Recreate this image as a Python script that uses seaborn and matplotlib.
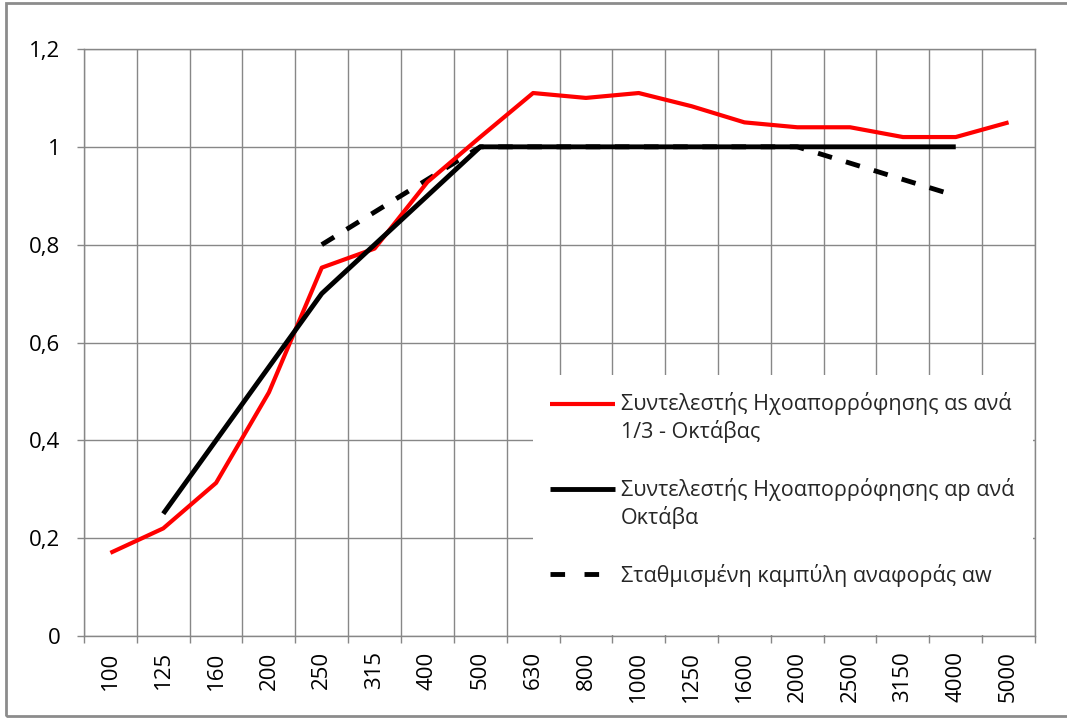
import matplotlib
matplotlib.use("Agg")
import matplotlib.pyplot as plt
import seaborn as sns
import numpy as np
import pandas as pd
from matplotlib.patches import Rectangle
from matplotlib.ticker import FixedLocator, FuncFormatter
from matplotlib.legend_handler import HandlerLine2D

# ---------------- data ----------------
categories = ["100", "125", "160", "200", "250", "315", "400", "500", "630",
              "800", "1000", "1250", "1600", "2000", "2500", "3150", "4000", "5000"]
alpha_s = [0.17, 0.22, 0.313, 0.498, 0.753, 0.792, 0.928, 1.02, 1.11,
           1.10, 1.11, 1.083, 1.05, 1.04, 1.04, 1.02, 1.02, 1.05]
octave_cats = ["125", "250", "500", "1000", "2000", "4000"]
alpha_p = [0.25, 0.70, 1.00, 1.00, 1.00, 1.00]
ref_cats = ["250", "500", "1000", "2000", "4000"]
alpha_w_ref = [0.80, 1.00, 1.00, 1.00, 0.90]

label_s = "Συντελεστής Ηχοαπορρόφησης αs ανά\n1/3 - Οκτάβας"
label_p = "Συντελεστής Ηχοαπορρόφησης αp ανά\nΟκτάβα"
label_w = "Σταθμισμένη καμπύλη αναφοράς αw"
y_ticks = [0, 0.2, 0.4, 0.6, 0.8, 1.0, 1.2]

# ---------------- style ----------------
sns.set_style("white")
plt.rcParams['font.family'] = ['Open Sans', 'DejaVu Sans']
GRID = "#878787"
FS = 16
LFS = 15.5

df_s = pd.DataFrame({"x": [categories.index(c) for c in categories], "y": alpha_s})
df_p = pd.DataFrame({"x": [categories.index(c) for c in octave_cats], "y": alpha_p})
df_w = pd.DataFrame({"x": [categories.index(c) for c in ref_cats], "y": alpha_w_ref})

fig = plt.figure(figsize=(10.67, 7.19), dpi=100)
W, H = 1067, 719
ax = fig.add_axes([84 / W, 1 - 636 / H, (1035 - 84) / W, (636 - 49) / H])

sns.lineplot(data=df_s, x="x", y="y", ax=ax, color="#FF0000", linewidth=3.0,
             label=label_s, legend=False)
sns.lineplot(data=df_p, x="x", y="y", ax=ax, color="black", linewidth=3.5,
             label=label_p, legend=False)
sns.lineplot(data=df_w, x="x", y="y", ax=ax, color="black", linewidth=3.5,
             label=label_w, legend=False)
line_s, line_p, line_w = ax.lines[0], ax.lines[1], ax.lines[2]
line_w.set_linestyle((0, (3.0, 3.0)))
line_w.set_dash_capstyle("butt")
line_w.set_zorder(1.9)
line_s.set_zorder(2.0)
line_p.set_zorder(2.1)
for ln in ax.lines:
    ln.set_solid_capstyle("butt")

n = len(categories)
ax.set_xlim(-0.5, n - 0.5)
ax.set_ylim(0, 1.2)

# x axis: labels at category centres, gridlines/ticks between categories
ax.xaxis.set_major_locator(FixedLocator(np.arange(n)))
ax.set_xticklabels(categories, rotation=90, fontsize=FS, color="black")
ax.xaxis.set_minor_locator(FixedLocator(np.arange(n + 1) - 0.5))
ax.tick_params(axis="x", which="major", length=0, pad=11)
ax.tick_params(axis="x", which="minor", length=5, width=1, color=GRID,
               direction="out", bottom=True)
ax.grid(which="minor", axis="x", color=GRID, linewidth=1.0)

# y axis
ax.yaxis.set_major_locator(FixedLocator(y_ticks))
ax.yaxis.set_major_formatter(FuncFormatter(lambda v, p: f"{v:g}".replace(".", ",")))
ax.tick_params(axis="y", which="major", length=5, width=1, color=GRID,
               direction="out", left=True, pad=12, labelsize=FS, labelcolor="black")
ax.grid(which="major", axis="y", color=GRID, linewidth=1.0)
ax.set_axisbelow(True)

ax.set_xlabel("")
ax.set_ylabel("")
for sp in ax.spines.values():
    sp.set_color(GRID)
    sp.set_linewidth(1.0)

# white legend area covering the gridlines
ax.add_patch(Rectangle((0.472, 0.002), 0.526, 0.443, transform=ax.transAxes,
                       facecolor="white", edgecolor="none", zorder=1.5))


class FirstLineHandler(HandlerLine2D):
    def __init__(self, shift=0.0, dashes=None, **kw):
        super().__init__(**kw)
        self.shift = shift
        self.dashes = dashes

    def create_artists(self, legend, orig_handle, xdescent, ydescent, width,
                       height, fontsize, trans):
        arts = super().create_artists(legend, orig_handle, xdescent, ydescent,
                                      width, height, fontsize, trans)
        for a in arts:
            a.set_ydata(np.asarray(a.get_ydata(), dtype=float) + self.shift * fontsize)
            if self.dashes is not None:
                a.set_linestyle((0, self.dashes))
        return arts


leg = ax.legend(handles=[line_s, line_p, line_w],
                labels=[label_s, label_p, label_w],
                handler_map={line_s: FirstLineHandler(0.68),
                             line_p: FirstLineHandler(0.68),
                             line_w: FirstLineHandler(0.0, dashes=(3.0, 4.0))},
                loc="upper left", bbox_to_anchor=(550 / W, 1 - 392 / H),
                bbox_transform=fig.transFigure, frameon=False,
                fontsize=LFS, handlelength=3.0, handletextpad=0.3,
                labelspacing=1.6, borderpad=0, borderaxespad=0)
for t in leg.get_texts():
    t.set_linespacing(1.3)

# outer border of the chart
fig.add_artist(Rectangle((6 / W, 3 / H), 1.0, 1 - 6 / H, transform=fig.transFigure,
                         fill=False, edgecolor="#8c8c8c", linewidth=2))

fig.savefig("out.png", dpi=100)
